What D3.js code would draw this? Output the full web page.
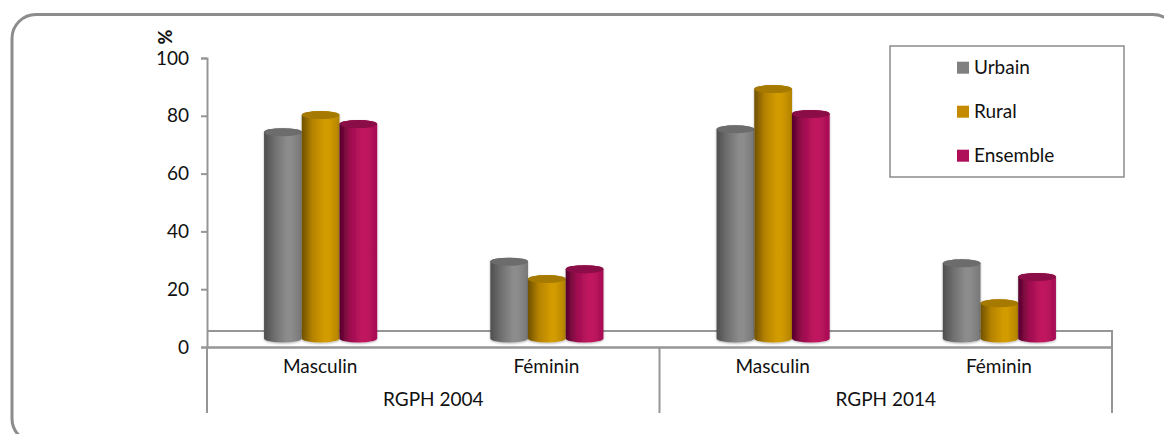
<!DOCTYPE html>
<html>
<head>
<meta charset="utf-8">
<script src="https://cdn.jsdelivr.net/npm/d3@7"></script>
<style>
  html, body { margin: 0; padding: 0; background: #fff; overflow: hidden; }
  svg { display: block; }
  text { font-family: Lato, sans-serif; font-size: 19px; fill: #111; }
</style>
</head>
<body>
<script>
const periods = ['RGPH 2004', 'RGPH 2014'];
const sexes = ['Masculin', 'Féminin'];
const seriesNames = ['Urbain', 'Rural', 'Ensemble'];
const yTicks = [0, 20, 40, 60, 80, 100];

// order: 2004 M, 2004 F, 2014 M, 2014 F
const urbain = [71.4, 26.6, 72.4, 26.0];
const rural = [77.3, 20.6, 86.3, 12.2];
const ensemble = [74.2, 24.0, 77.7, 21.3];

const width = 1164;
const height = 434;
const lineColor = '#969696';
const labelFont = 'Lato, sans-serif';
const labelSize = '19px';

const series = [
  { name: seriesNames[0], values: urbain, swatch: '#808080', top: '#6c6c6c',
    stops: ['#4e4e4e', '#6f6f6f', '#8c8c8c', '#8c8c8c', '#777777'] },
  { name: seriesNames[1], values: rural, swatch: '#c68a00', top: '#a67a00',
    stops: ['#6e5000', '#b58200', '#d29b00', '#d29b00', '#b38300'] },
  { name: seriesNames[2], values: ensemble, swatch: '#ae0f58', top: '#8a0c46',
    stops: ['#55002c', '#9c0f4e', '#c0145f', '#c0145f', '#a40f52'] },
];

const svg = d3.select('body').append('svg')
  .attr('width', width)
  .attr('height', height);

const defs = svg.append('defs');
series.forEach((s, i) => {
  const grad = defs.append('linearGradient').attr('id', `cyl${i}`);
  [0, 0.28, 0.6, 0.72, 1].forEach((o, j) => {
    grad.append('stop').attr('offset', o).attr('stop-color', s.stops[j]);
  });
});
defs.append('filter').attr('id', 'soft')
  .attr('x', '-10%').attr('y', '-10%').attr('width', '120%').attr('height', '120%')
  .append('feDropShadow')
  .attr('dx', 0).attr('dy', 1).attr('stdDeviation', 0.8)
  .attr('flood-color', '#000').attr('flood-opacity', 0.3);

// outer rounded frame runs off the right and bottom of the picture
svg.append('rect')
  .attr('x', 12).attr('y', 14.5)
  .attr('width', 1165).attr('height', 428)
  .attr('rx', 24).attr('ry', 24)
  .attr('fill', '#fff')
  .attr('stroke', '#8c8c8c').attr('stroke-width', 3);

const yScale = d3.scaleLinear().domain([0, 100]).range([347, 58]);

const cats = d3.range(4).map((i) => `${i}`);
const xScale = d3.scaleBand().domain(cats).range([207, 1112]);
const xInner = d3.scaleBand()
  .domain(seriesNames)
  .range([-xScale.bandwidth() / 4 + 0.5, xScale.bandwidth() / 4 + 0.5]);
const xPeriod = d3.scaleBand().domain(periods).range([207, 1112]);

// 3D floor: back edge sits higher than the front axis
const floorBack = 16;
const depth = 8.5;
const ry = 4;

const chart = svg.append('g');

chart.append('path')
  .attr('d', `M${xScale.range()[0]},${yScale(0) - floorBack}H${xScale.range()[1]}V${yScale(0)}`)
  .attr('fill', 'none')
  .attr('stroke', lineColor)
  .attr('stroke-width', 2);

const yAxis = chart.append('g')
  .attr('transform', 'translate(207,0)')
  .call(d3.axisLeft(yScale).tickValues(yTicks).tickSize(6).tickPadding(12));
yAxis.select('.domain').attr('stroke', lineColor).attr('stroke-width', 2);
yAxis.selectAll('.tick line').attr('stroke', lineColor).attr('stroke-width', 2);
yAxis.selectAll('text').style('font-family', labelFont).style('font-size', labelSize).attr('fill', '#111');

const xAxis = chart.append('g')
  .attr('transform', `translate(0,${yScale(0)})`)
  .call(d3.axisBottom(xScale)
    .tickFormat((d) => sexes[+d % 2])
    .tickSize(0).tickPadding(13));
xAxis.select('.domain').attr('stroke', lineColor).attr('stroke-width', 2.5);
xAxis.selectAll('text').style('font-family', labelFont).style('font-size', labelSize).attr('fill', '#111');

const periodAxis = chart.append('g')
  .attr('transform', `translate(0,${yScale(0) + 45})`)
  .call(d3.axisBottom(xPeriod).tickSize(0).tickPadding(0));
periodAxis.select('.domain').remove();
periodAxis.selectAll('text').style('font-family', labelFont).style('font-size', labelSize).attr('fill', '#111');

chart.selectAll('.divider')
  .data([xPeriod.range()[0], xPeriod(periods[1]), xPeriod.range()[1]])
  .enter()
  .append('line')
  .classed('divider', true)
  .attr('x1', (d) => d).attr('x2', (d) => d)
  .attr('y1', yScale(0)).attr('y2', 413)
  .attr('stroke', lineColor)
  .attr('stroke-width', 2);

series.forEach((s, i) => {
  const rx = xInner.bandwidth() / 2;
  const g = chart.append('g').attr('filter', 'url(#soft)');
  const cx = (j) => xScale(cats[j]) + xScale.bandwidth() / 2 + xInner(s.name) + rx;
  g.selectAll('path')
    .data(s.values)
    .enter()
    .append('path')
    .attr('fill', `url(#cyl${i})`)
    .attr('d', (v, j) => {
      const top = yScale(v) - depth;
      const base = yScale(0) - depth;
      return `M${cx(j) - rx},${top}V${base}A${rx},${ry} 0 0 0 ${cx(j) + rx},${base}V${top}A${rx},${ry} 0 0 0 ${cx(j) - rx},${top}Z`;
    });
  g.selectAll('ellipse')
    .data(s.values)
    .enter()
    .append('ellipse')
    .attr('cx', (v, j) => cx(j))
    .attr('cy', (v) => yScale(v) - depth)
    .attr('rx', rx)
    .attr('ry', ry)
    .attr('fill', s.top);
});

svg.append('text')
  .attr('transform', 'translate(172,37) rotate(-90)')
  .attr('text-anchor', 'middle')
  .style('font-weight', 900)
  .style('font-size', '18px')
  .text('%');

// legend
const legendY = d3.scalePoint().domain(seriesNames).range([67.7, 155.7]);
const legend = svg.append('g');
legend.append('rect')
  .attr('x', 890).attr('y', 46)
  .attr('width', 234).attr('height', 131)
  .attr('fill', '#fff')
  .attr('stroke', '#8c8c8c')
  .attr('stroke-width', 1.5);
legend.selectAll('.swatch')
  .data(series)
  .enter()
  .append('rect')
  .classed('swatch', true)
  .attr('x', 957)
  .attr('y', (d) => legendY(d.name) - 6)
  .attr('width', 12).attr('height', 12)
  .attr('fill', (d) => d.swatch);
legend.selectAll('text')
  .data(series)
  .enter()
  .append('text')
  .attr('x', 974)
  .attr('y', (d) => legendY(d.name))
  .attr('dy', '0.35em')
  .text((d) => d.name);
</script>
</body>
</html>
